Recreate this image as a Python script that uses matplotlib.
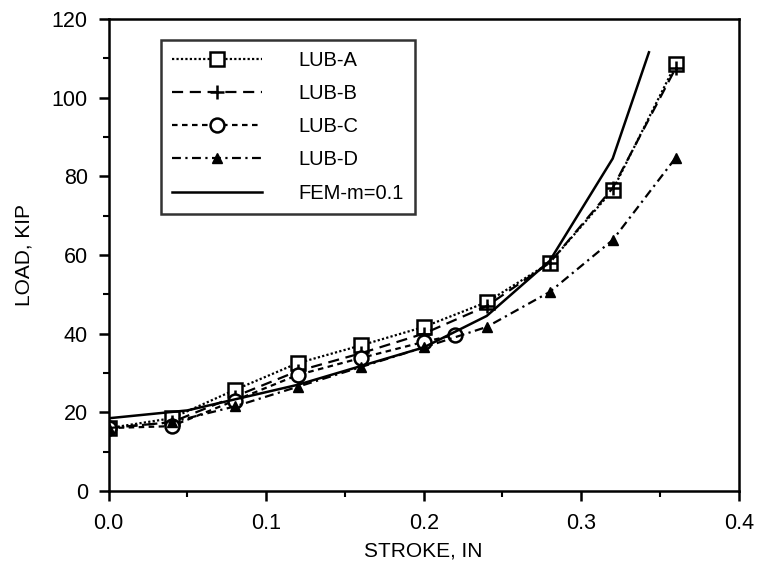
import matplotlib.pyplot as plt

plt.rcParams['font.family'] = ['Liberation Sans', 'DejaVu Sans']

stroke = [0.0, 0.04, 0.08, 0.12, 0.16, 0.20, 0.24, 0.28, 0.32, 0.36]
lub_a = [16.0, 18.5, 25.7, 32.5, 37.0, 41.7, 48.0, 58.0, 76.5, 108.5]
lub_b = [16.0, 17.5, 24.0, 30.5, 35.0, 40.0, 47.0, 58.0, 77.0, 107.5]
stroke_c = [0.0, 0.04, 0.08, 0.12, 0.16, 0.20, 0.22]
lub_c = [16.0, 16.5, 23.0, 29.5, 33.8, 37.9, 39.7]
lub_d = [16.0, 17.5, 21.5, 26.5, 31.5, 36.5, 41.7, 50.6, 63.8, 84.7]
stroke_fem = [0.0, 0.05, 0.12, 0.20, 0.24, 0.28, 0.32, 0.343]
fem = [18.5, 20.5, 27.0, 36.5, 44.5, 58.5, 84.5, 111.5]

fig = plt.figure(figsize=(7.6, 5.71), dpi=100)
ax = fig.add_axes([0.143, 0.14, 0.829, 0.827])

ax.plot(stroke, lub_a, color='black', linestyle=(0, (1, 1)), lw=1.6,
        marker='s', ms=10, mfc='white', mec='black', mew=1.8, label='LUB-A')
ax.plot(stroke, lub_b, color='black', linestyle=(0, (5, 3)), lw=1.6,
        marker='+', ms=10, mew=1.8, label='LUB-B')
ax.plot(stroke_c, lub_c, color='black', linestyle=(0, (2.5, 2)), lw=1.6,
        marker='o', ms=10, mfc='white', mec='black', mew=1.8, label='LUB-C')
ax.plot(stroke, lub_d, color='black', linestyle=(0, (4, 2, 1, 2)), lw=1.6,
        marker='^', ms=7, mfc='black', mec='black', label='LUB-D')
ax.plot(stroke_fem, fem, color='black', linestyle='-', lw=1.8, label='FEM-m=0.1')

ax.set_xlim(0, 0.4)
ax.set_ylim(0, 120)
ax.set_xticks([0.0, 0.1, 0.2, 0.3, 0.4])
ax.set_xticklabels(['0.0', '0.1', '0.2', '0.3', '0.4'])
ax.set_xticks([0.05, 0.15, 0.25, 0.35], minor=True)
ax.set_yticks([0, 20, 40, 60, 80, 100, 120])
ax.set_yticks([10, 30, 50, 70, 90, 110], minor=True)
ax.tick_params(which='major', direction='out', length=7, width=1.8, labelsize=15.5)
ax.tick_params(which='minor', direction='out', length=4, width=1.5)
ax.tick_params(axis='x', which='major', pad=9)
ax.tick_params(axis='y', which='major', pad=8)
for s in ax.spines.values():
    s.set_linewidth(1.8)

ax.set_xlabel('STROKE, IN', fontsize=15, labelpad=5)
ax.set_ylabel('LOAD, KIP', fontsize=15, labelpad=13)

leg = ax.legend(loc='upper left', bbox_to_anchor=(0.0825, 0.955), borderaxespad=0,
                fontsize=14.5, frameon=True, fancybox=False, edgecolor='black',
                handlelength=4.5, handletextpad=1.8, labelspacing=0.7,
                borderpad=0.55)
leg.get_frame().set_linewidth(1.8)

fig.savefig('out.png', dpi=100)
